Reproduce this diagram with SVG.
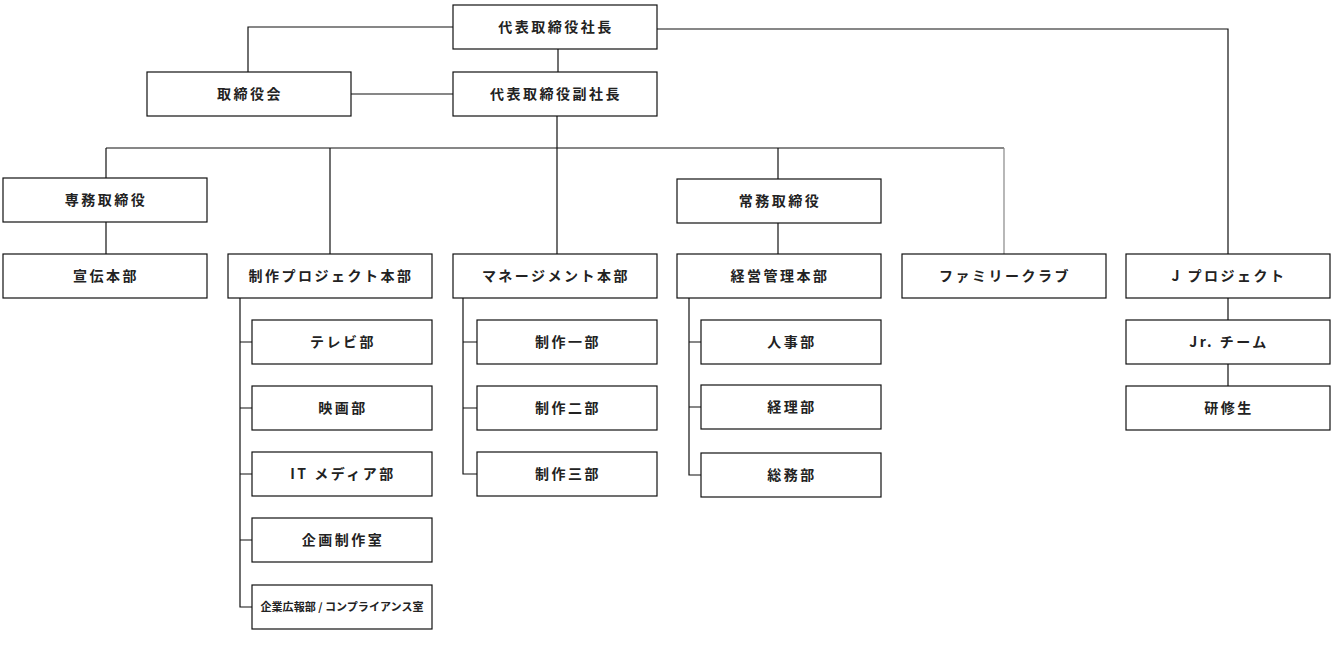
<svg xmlns="http://www.w3.org/2000/svg" width="1335" height="672" viewBox="0 0 1335 672">
<style>
.box{fill:#fff;stroke:#111;stroke-width:1.2}
.lbl{font-family:"Noto Sans CJK JP","Noto Sans",sans-serif;font-size:14px;font-weight:bold;fill:#222;text-anchor:middle;letter-spacing:2.5px}
.small{font-size:11px;letter-spacing:0}
.ln{fill:none;stroke:#111;stroke-width:1.2}
.gray{stroke:#888}
</style>
<rect width="1335" height="672" fill="#fff"/>
<g id="connectors">
<path class="ln" d="M453,27 H248 V72"/>
<path class="ln" d="M558,49 V72"/>
<path class="ln" d="M351,94 H453"/>
<path class="ln" d="M657,29 H1228 V254"/>
<path class="ln" d="M557,116 V254"/>
<path class="ln" d="M106,148 H1004"/>
<path class="ln" d="M106,148 V178"/>
<path class="ln" d="M330,148 V254"/>
<path class="ln" d="M778,148 V179"/>
<path class="ln gray" d="M1004,148 V254"/>
<path class="ln" d="M106,222 V254"/>
<path class="ln" d="M778,223 V254"/>
<path class="ln" d="M240,298 V607 H252 M240,342 H252 M240,408 H252 M240,474 H252 M240,540 H252"/>
<path class="ln" d="M463,298 V474 H477 M463,342 H477 M463,408 H477"/>
<path class="ln" d="M689,298 V475 H701 M689,342 H701 M689,407 H701"/>
<path class="ln" d="M1228,298 V320 M1228,364 V386"/>
</g>
<g id="president"><rect class="box" x="453" y="5" width="204" height="44"/><text class="lbl" x="556" y="32">代表取締役社長</text></g>
<g id="board"><rect class="box" x="147" y="72" width="204" height="44"/><text class="lbl" x="250" y="99">取締役会</text></g>
<g id="vice-president"><rect class="box" x="453" y="72" width="204" height="44"/><text class="lbl" x="556" y="99">代表取締役副社長</text></g>
<g id="senmu"><rect class="box" x="3" y="178" width="204" height="44"/><text class="lbl" x="106" y="205">専務取締役</text></g>
<g id="senden"><rect class="box" x="3" y="254" width="204" height="44"/><text class="lbl" x="106" y="281">宣伝本部</text></g>
<g id="seisaku-project"><rect class="box" x="228" y="254" width="204" height="44"/><text class="lbl" x="331" y="281">制作プロジェクト本部</text></g>
<g id="management"><rect class="box" x="453" y="254" width="204" height="44"/><text class="lbl" x="556" y="281">マネージメント本部</text></g>
<g id="jomu"><rect class="box" x="677" y="179" width="204" height="44"/><text class="lbl" x="780" y="206">常務取締役</text></g>
<g id="keiei"><rect class="box" x="677" y="254" width="204" height="44"/><text class="lbl" x="780" y="281">経営管理本部</text></g>
<g id="family-club"><rect class="box" x="902" y="254" width="204" height="44"/><text class="lbl" x="1005" y="281">ファミリークラブ</text></g>
<g id="j-project"><rect class="box" x="1126" y="254" width="204" height="44"/><text class="lbl" x="1229" y="281">J プロジェクト</text></g>
<g id="jr-team"><rect class="box" x="1126" y="320" width="204" height="44"/><text class="lbl" x="1229" y="347">Jr. チーム</text></g>
<g id="kenshusei"><rect class="box" x="1126" y="386" width="204" height="44"/><text class="lbl" x="1229" y="413">研修生</text></g>
<g id="tv"><rect class="box" x="252" y="320" width="180" height="44"/><text class="lbl" x="343" y="347">テレビ部</text></g>
<g id="eiga"><rect class="box" x="252" y="386" width="180" height="44"/><text class="lbl" x="343" y="413">映画部</text></g>
<g id="it-media"><rect class="box" x="252" y="452" width="180" height="44"/><text class="lbl" x="343" y="479">IT メディア部</text></g>
<g id="kikaku"><rect class="box" x="252" y="518" width="180" height="44"/><text class="lbl" x="343" y="545">企画制作室</text></g>
<g id="kouhou"><rect class="box" x="252" y="585" width="180" height="44"/><text class="lbl small" x="342" y="611" textLength="163" lengthAdjust="spacingAndGlyphs">企業広報部 / コンプライアンス室</text></g>
<g id="seisaku1"><rect class="box" x="477" y="320" width="180" height="44"/><text class="lbl" x="568" y="347">制作一部</text></g>
<g id="seisaku2"><rect class="box" x="477" y="386" width="180" height="44"/><text class="lbl" x="568" y="413">制作二部</text></g>
<g id="seisaku3"><rect class="box" x="477" y="452" width="180" height="44"/><text class="lbl" x="568" y="479">制作三部</text></g>
<g id="jinji"><rect class="box" x="701" y="320" width="180" height="44"/><text class="lbl" x="792" y="347">人事部</text></g>
<g id="keiri"><rect class="box" x="701" y="385" width="180" height="44"/><text class="lbl" x="792" y="412">経理部</text></g>
<g id="soumu"><rect class="box" x="701" y="453" width="180" height="44"/><text class="lbl" x="792" y="480">総務部</text></g>
</svg>
